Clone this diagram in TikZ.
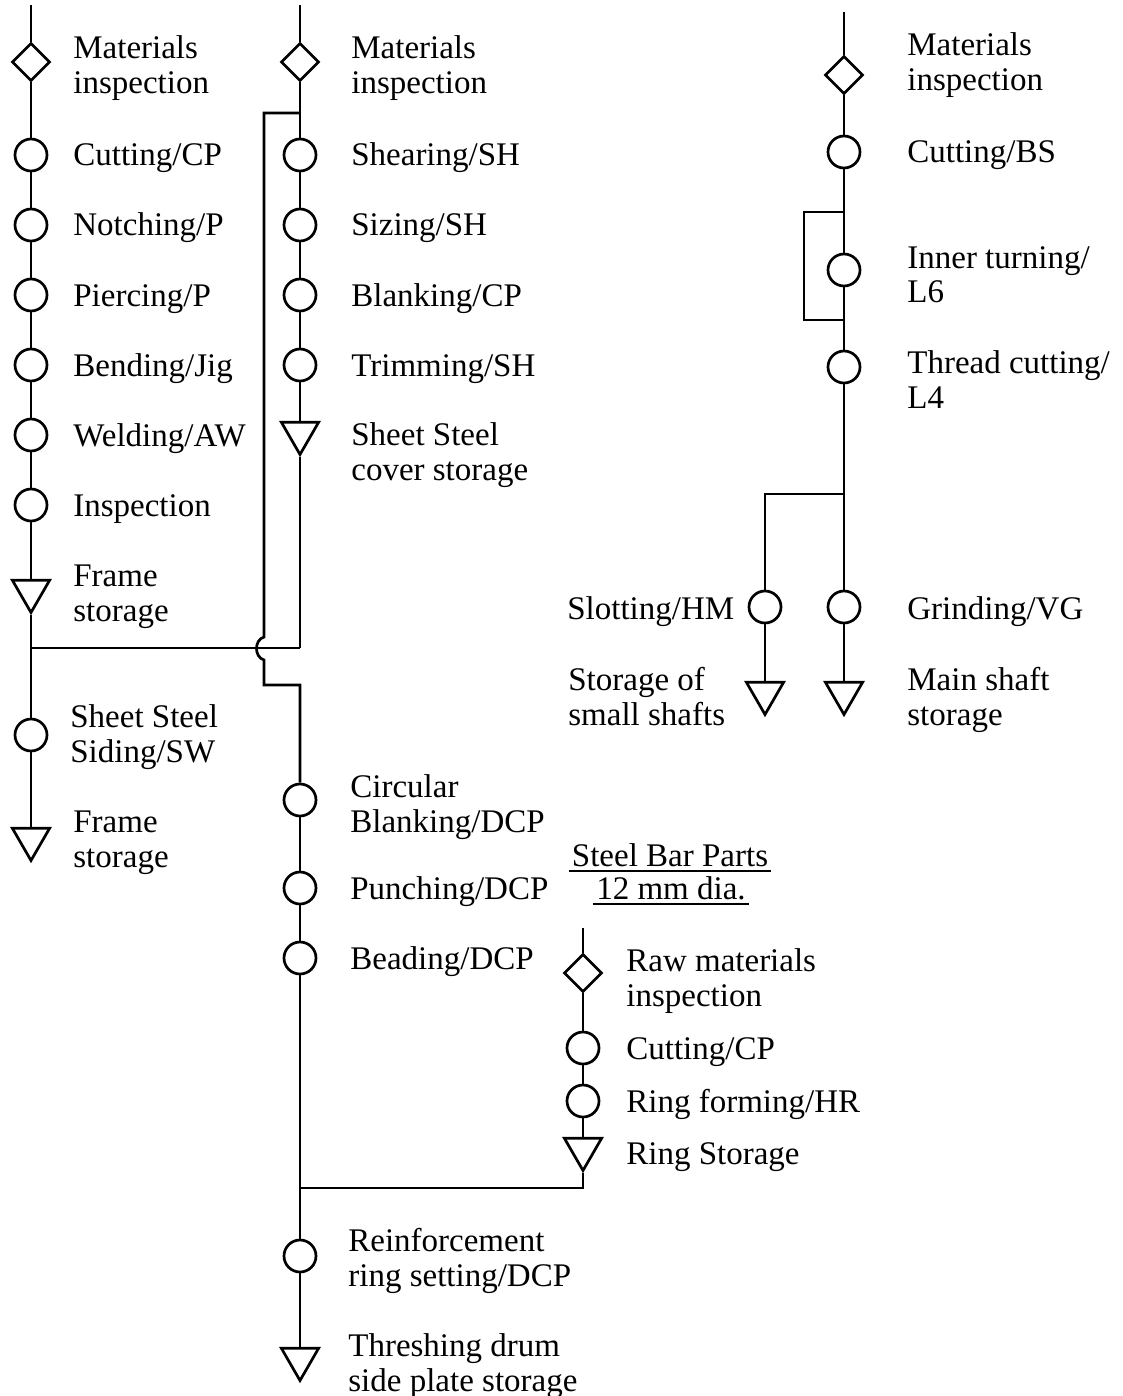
\documentclass[tikz,border=0pt]{standalone}
\usepackage{fontspec}
\setmainfont{Liberation Serif}
\usetikzlibrary{shapes.geometric}
\begin{document}
\begin{tikzpicture}[x=1pt,y=-1pt,line width=2.7pt,
  proc/.style={circle,draw,minimum size=32pt,inner sep=0pt},
  insp/.style={diamond,draw,minimum size=38pt,inner sep=0pt},
  store/.style={regular polygon,regular polygon sides=3,shape border rotate=180,draw,minimum size=43pt,inner sep=0pt},
  lab/.style={anchor=base west,align=left,inner sep=0pt,font=\fontsize{33}{35}\selectfont},
  uline/.style={line width=2pt}]
\useasboundingbox (0,0) rectangle (1122,1396);
% ---------- column 1 ----------
\coordinate (t1) at (31,5);
\node[insp] (d1) at (31,62) {};
\node[proc] (a1) at (31,155) {};
\node[proc] (a2) at (31,225) {};
\node[proc] (a3) at (31,295) {};
\node[proc] (a4) at (31,365) {};
\node[proc] (a5) at (31,435) {};
\node[proc] (a6) at (31,505) {};
\node[store] (s1) at (31,591) {};
\coordinate (j1) at (31,648);
\coordinate (j1r) at (300,648);
\node[proc] (b1) at (31,735) {};
\node[store] (s2) at (31,839) {};
% ---------- column 2 ----------
\coordinate (t2) at (300,5);
\node[insp] (d2) at (300,62) {};
\coordinate (k1) at (300,113);
\coordinate (k2) at (264,113);
\coordinate (hopA) at (264,637);
\coordinate (hopB) at (264,660);
\coordinate (k3) at (264,685);
\coordinate (k4) at (300,685);
\node[proc] (e1) at (300,155) {};
\node[proc] (e2) at (300,225) {};
\node[proc] (e3) at (300,295) {};
\node[proc] (e4) at (300,365) {};
\node[store] (s3) at (300,433) {};
\node[proc] (f1) at (300,800) {};
\node[proc] (f2) at (300,888) {};
\node[proc] (f3) at (300,958) {};
\coordinate (j2) at (300,1188);
\node[proc] (g1) at (300,1256) {};
\node[store] (s4) at (300,1359) {};
% ---------- column 3 ----------
\coordinate (t3) at (583,928);
\node[insp] (d3) at (583,973) {};
\node[proc] (h1) at (583,1048) {};
\node[proc] (h2) at (583,1101) {};
\node[store] (s5) at (583,1149) {};
\coordinate (j3) at (583,1188);
% ---------- column 4 ----------
\coordinate (t4) at (844,12);
\node[insp] (d4) at (844,75) {};
\node[proc] (m1) at (844,152) {};
\coordinate (q1) at (844,212);
\coordinate (q2) at (804,212);
\coordinate (q3) at (804,320);
\coordinate (q4) at (844,320);
\node[proc] (m2) at (844,270) {};
\node[proc] (m3) at (844,367) {};
\coordinate (br) at (844,494);
\coordinate (brl) at (765,494);
\node[proc] (m4) at (765,607) {};
\node[proc] (m5) at (844,607) {};
\node[store] (s6) at (765,693) {};
\node[store] (s7) at (844,693) {};
% ---------- connectors ----------
\draw (t1) -- (d1) -- (a1) -- (a2) -- (a3) -- (a4) -- (a5) -- (a6) -- (s1) -- (j1) -- (b1) -- (s2);
\draw (j1) -- (j1r);
\draw (t2) -- (d2) -- (k1) -- (e1) -- (e2) -- (e3) -- (e4) -- (s3) -- (j1r);
\draw (k1) -- (k2) -- (hopA) .. controls (254,640) and (254,657) .. (hopB) -- (k3) -- (k4) -- (f1);
\draw (f1) -- (f2) -- (f3) -- (j2) -- (g1) -- (s4);
\draw (t3) -- (d3) -- (h1) -- (h2) -- (s5) -- (j3) -- (j2);
\draw (t4) -- (d4) -- (m1) -- (q1) -- (m2) -- (q4) -- (m3) -- (br) -- (m5) -- (s7);
\draw (q1) -- (q2) -- (q3) -- (q4);
\draw (br) -- (brl) -- (m4) -- (s6);
% ---------- labels ----------
\node[lab] (L1) at (72,94) {Materials\\inspection};
\node[lab] (L2) at (72,166) {Cutting/CP};
\node[lab] (L3) at (72,236) {Notching/P};
\node[lab] (L4) at (72,306) {Piercing/P};
\node[lab] (L5) at (72,376) {Bending/Jig};
\node[lab] (L6) at (72,446) {Welding/AW};
\node[lab] (L7) at (72,516) {Inspection};
\node[lab] (L8) at (72,621) {Frame\\storage};
\node[lab] (L9) at (69,762) {Sheet Steel\\Siding/SW};
\node[lab] (L10) at (72,867) {Frame\\storage};
\node[lab] (M1) at (350,94) {Materials\\inspection};
\node[lab] (M2) at (350,166) {Shearing/SH};
\node[lab] (M3) at (350,236) {Sizing/SH};
\node[lab] (M4) at (350,306) {Blanking/CP};
\node[lab] (M5) at (350,376) {Trimming/SH};
\node[lab] (M6) at (350,480) {Sheet Steel\\cover storage};
\node[lab] (M7) at (349,832) {Circular\\Blanking/DCP};
\node[lab] (M8) at (349,899) {Punching/DCP};
\node[lab] (M9) at (349,969) {Beading/DCP};
\node[lab] (M10) at (347,1286) {Reinforcement\\ring setting/DCP};
\node[lab] (M11) at (347,1391) {Threshing drum\\side plate storage};
\node[lab,anchor=base] (SB1) at (670,866) {Steel Bar Parts};
\node[lab,anchor=base] (SB2) at (671,899) {12 mm dia.};
\draw[uline] ([xshift=-2pt,yshift=-5pt]SB1.base west) -- ([xshift=2pt,yshift=-5pt]SB1.base east);
\draw[uline] ([xshift=-2pt,yshift=-5pt]SB2.base west) -- ([xshift=2pt,yshift=-5pt]SB2.base east);
\node[lab] (R1) at (625,1006) {Raw materials\\inspection};
\node[lab] (R2) at (625,1059) {Cutting/CP};
\node[lab] (R3) at (625,1112) {Ring forming/HR};
\node[lab] (R4) at (625,1164) {Ring Storage};
\node[lab] (N1) at (906,91) {Materials\\inspection};
\node[lab] (N2) at (906,163) {Cutting/BS};
\node[lab] (N3) at (906,303) {Inner turning/\\L6};
\node[lab] (N4) at (906,408) {Thread cutting/\\L4};
\node[lab] (N5) at (906,619) {Grinding/VG};
\node[lab] (N6) at (906,725) {Main shaft\\storage};
\node[lab] (N7) at (566,619) {Slotting/HM};
\node[lab] (N8) at (567,725) {Storage of\\small shafts};
\end{tikzpicture}
\end{document}
